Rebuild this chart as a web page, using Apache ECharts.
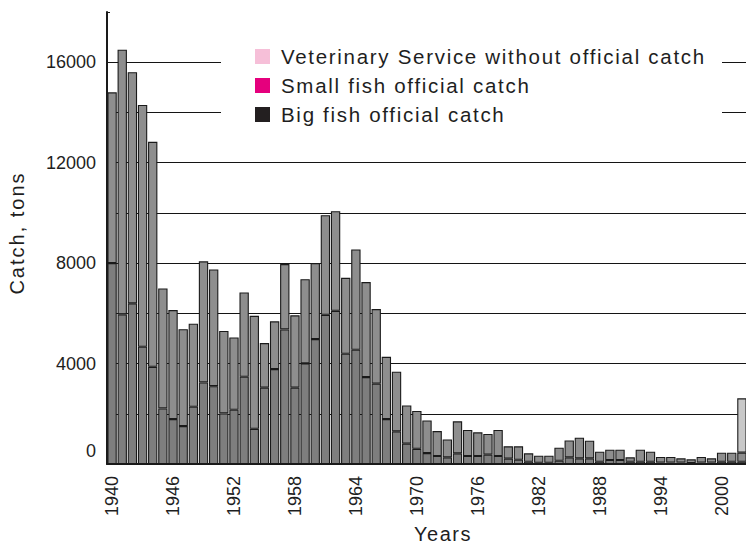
<!DOCTYPE html>
<html>
<head>
<meta charset="utf-8">
<title>Catch, tons</title>
<script src="https://cdn.jsdelivr.net/npm/echarts@6/dist/echarts.min.js"></script>
<style>
  html, body { margin: 0; padding: 0; background: #ffffff; }
  #chart { width: 746px; height: 545px; }
</style>
</head>
<body>
<div id="chart"></div>
<script>
// Fishing years shown on the category axis
const years = [
  '1940','1941','1942','1943','1944','1945','1946','1947','1948','1949',
  '1950','1951','1952','1953','1954','1955','1956','1957','1958','1959',
  '1960','1961','1962','1963','1964','1965','1966','1967','1968','1969',
  '1970','1971','1972','1973','1974','1975','1976','1977','1978','1979',
  '1980','1981','1982','1983','1984','1985','1986','1987','1988','1989',
  '1990','1991','1992','1993','1994','1995','1996','1997','1998','1999',
  '2000','2001','2002'
];

// Big fish official catch, tons (lower part of each bar)
const bigFish = [
  8000, 5960, 6400, 4670, 3870, 2215, 1790, 1510, 2280, 3250,
  3100, 2015, 2160, 3475, 1400, 3040, 3780, 5360, 3040, 4010,
  4975, 5940, 6100, 4390, 4550, 3460, 3200, 1790, 1300, 810,
  605, 435, 318, 265, 425, 318, 318, 370, 318, 212,
  170, 90, 50, 50, 130, 265, 225, 225, 90, 160,
  160, 90, 90, 90, 60, 60, 60, 40, 60, 60,
  90, 90, 90
];

// Small fish official catch, tons (stacked on top of big fish)
const smallFish = [
  6800, 10540, 9200, 9630, 8960, 4775, 4340, 3860, 3305, 4820,
  4650, 3285, 2880, 3355, 4500, 1775, 1900, 2600, 2880, 3350,
  3025, 3970, 3970, 3025, 3995, 3785, 2970, 2480, 2375, 1520,
  1510, 1300, 995, 715, 1275, 1035, 942, 824, 1035, 493,
  535, 335, 280, 280, 520, 670, 825, 700, 400, 410,
  410, 175, 480, 400, 220, 220, 165, 145, 220, 165,
  360, 360, 360
];

// Veterinary Service estimate without official catch, tons
const vetService = [
  null, null, null, null, null, null, null, null, null, null,
  null, null, null, null, null, null, null, null, null, null,
  null, null, null, null, null, null, null, null, null, null,
  null, null, null, null, null, null, null, null, null, null,
  null, null, null, null, null, null, null, null, null, null,
  null, null, null, null, null, null, null, null, null, null,
  null, null, 2165
];

// Value-axis ticks that carry a printed label
const labelledTicks = [0, 4000, 8000, 12000, 16000];

const NAME_VET = 'Veterinary Service without official catch';
const NAME_SMALL = 'Small fish official catch';
const NAME_BIG = 'Big fish official catch';
const FONT = "'Liberation Sans', Arial, Helvetica, sans-serif";
const INK = '#1e1e1e';

const chart = echarts.init(document.getElementById('chart'), null, { renderer: 'svg' });

const barBorder = { borderColor: '#1a1a1a', borderWidth: 1.1 };

chart.setOption({
  animation: false,
  backgroundColor: '#ffffff',
  textStyle: { fontFamily: FONT, color: INK },
  grid: {
    left: 107, top: 12, width: 640, bottom: 81,
    containLabel: false, outerBoundsMode: 'none'
  },
  graphic: [{
    type: 'rect',
    left: 221, top: 30, z: 1,
    shape: { width: 501, height: 110 },
    style: { fill: '#ffffff' },
    silent: true
  }],
  legend: {
    orient: 'vertical',
    left: 255, top: 46, padding: 0,
    itemWidth: 15, itemHeight: 15, itemGap: 8,
    icon: 'rect',
    selectedMode: false,
    textStyle: { fontSize: 20.5, color: INK, fontFamily: FONT, padding: [0, 0, 0, 6] },
    data: [
      { name: NAME_VET, itemStyle: { color: '#f6bfd8', borderWidth: 0 } },
      { name: NAME_SMALL, itemStyle: { color: '#e5007d', borderWidth: 0 } },
      { name: NAME_BIG, itemStyle: { color: '#231f20', borderWidth: 0 } }
    ]
  },
  xAxis: {
    type: 'category',
    data: years,
    name: 'Years',
    nameLocation: 'middle',
    nameGap: 60,
    nameTextStyle: { fontSize: 20, color: INK, fontFamily: FONT, padding: [0, 0, 0, 32] },
    axisLine: { show: true, lineStyle: { color: '#1a1a1a', width: 2 } },
    axisTick: { show: false },
    axisLabel: {
      interval: 5, rotate: 90, margin: 12,
      fontSize: 18, color: INK, fontFamily: FONT
    },
    splitLine: { show: false }
  },
  yAxis: {
    type: 'value',
    min: 0, max: 18000, interval: 2000,
    name: 'Catch, tons',
    nameLocation: 'middle',
    nameGap: 80,
    nameTextStyle: { fontSize: 20, color: INK, fontFamily: FONT, padding: [0, 0, 0, 10] },
    axisLine: { show: true, lineStyle: { color: '#1a1a1a', width: 2 } },
    axisTick: { show: true, inside: true, length: 3, lineStyle: { color: '#1a1a1a' } },
    axisLabel: {
      margin: 11, fontSize: 18, color: INK, fontFamily: FONT,
      formatter: function (v) {
        if (labelledTicks.indexOf(v) < 0) return '';
        return v === 0 ? '{zero|0}' : String(v);
      },
      rich: { zero: { fontSize: 18, fontFamily: FONT, color: INK, padding: [0, 0, 26, 0] } }
    },
    splitLine: {
      show: true, showMinLine: false, showMaxLine: false,
      lineStyle: { color: '#141414', width: 1.2 }
    }
  },
  series: [
    {
      name: NAME_BIG, type: 'bar', stack: 'catch',
      data: bigFish, barCategoryGap: '8%',
      itemStyle: Object.assign({ color: '#7e7e7e' }, barBorder)
    },
    {
      name: NAME_SMALL, type: 'bar', stack: 'catch',
      data: smallFish, barCategoryGap: '8%',
      itemStyle: Object.assign({ color: '#8e8e8e' }, barBorder)
    },
    {
      name: NAME_VET, type: 'bar', stack: 'catch',
      data: vetService, barCategoryGap: '8%',
      itemStyle: Object.assign({ color: '#c8c8c8' }, barBorder)
    }
  ]
});

// Tracked lettering for the legend entries and axis titles
const tracking = {};
tracking[NAME_VET] = '1.7px';
tracking[NAME_SMALL] = '1.7px';
tracking[NAME_BIG] = '1.7px';
tracking['Years'] = '1.5px';
tracking['Catch, tons'] = '2px';

function applyTracking() {
  document.querySelectorAll('#chart text').forEach(function (t) {
    const s = tracking[t.textContent];
    if (s) t.style.letterSpacing = s;
  });
}
chart.on('finished', applyTracking);
applyTracking();
</script>
</body>
</html>
